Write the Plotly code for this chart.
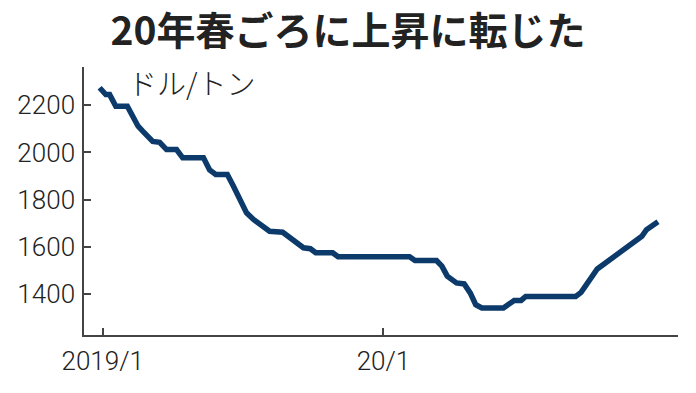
import plotly.graph_objects as go

dates = [
    "2018-12-28", "2019-01-05", "2019-01-10", "2019-01-18", "2019-02-02", "2019-02-07",
    "2019-02-16", "2019-02-22", "2019-03-07", "2019-03-16", "2019-03-25", "2019-04-07",
    "2019-04-15", "2019-05-12", "2019-05-20", "2019-05-28", "2019-06-12", "2019-06-20",
    "2019-07-07", "2019-07-16", "2019-08-06", "2019-08-23", "2019-09-01", "2019-09-19",
    "2019-09-28", "2019-10-05", "2019-10-27", "2019-11-03", "2020-02-04", "2020-02-11",
    "2020-03-10", "2020-03-17", "2020-03-24", "2020-04-05", "2020-04-15", "2020-04-23",
    "2020-04-30", "2020-05-08", "2020-06-05", "2020-06-19", "2020-06-28", "2020-07-04",
    "2020-09-07", "2020-09-14", "2020-10-05", "2020-10-31", "2020-11-26", "2020-12-02",
    "2020-12-08", "2020-12-23",
]
prices = [
    2274, 2245, 2245, 2196, 2196, 2168,
    2111, 2090, 2047, 2043, 2012, 2012,
    1977, 1977, 1926, 1907, 1907, 1857,
    1744, 1716, 1666, 1662, 1638, 1596,
    1592, 1575, 1575, 1558, 1558, 1542,
    1542, 1518, 1476, 1447, 1443, 1404,
    1355, 1341, 1341, 1373, 1373, 1390,
    1390, 1407, 1506, 1567, 1626, 1645,
    1673, 1706,
]

x_tickvals = ["2019-01-01", "2020-01-01"]
x_ticktext = ["2019/1", "20/1"]
y_tickvals = [1400, 1600, 1800, 2000, 2200]
y_ticktext = ["1400", "1600", "1800", "2000", "2200"]

title_text = "20年春ごろに上昇に転じた"
unit_text = "ドル/トン"

tick_font = dict(family="Roboto, sans-serif", size=26, color="#222222", weight=300)

fig = go.Figure()
fig.add_trace(go.Scatter(
    x=dates, y=prices, mode="lines",
    line=dict(color="#0c3a6b", width=5.5),
    hoverinfo="skip", showlegend=False,
))

fig.update_layout(
    width=696, height=393,
    margin=dict(l=84, r=18, t=67, b=58, autoexpand=False),
    paper_bgcolor="white", plot_bgcolor="white",
    title=dict(
        text=title_text, x=0.5, xref="container", xanchor="center",
        y=1 - 31 / 393, yref="container", yanchor="middle",
        font=dict(family="Noto Sans CJK JP", size=39, color="#222222", weight="bold"),
    ),
    xaxis=dict(
        type="date", range=["2018-12-07 16:00", "2021-01-18"],
        tickvals=x_tickvals, ticktext=x_ticktext,
        ticks="inside", ticklen=7, tickwidth=1.5, tickcolor="#444444",
        showline=True, linecolor="#444444", linewidth=1.5,
        showgrid=False, zeroline=False, tickfont=tick_font,
        ticklabelstandoff=2, automargin=False,
    ),
    yaxis=dict(
        range=[1226.5, 2362],
        tickvals=y_tickvals, ticktext=y_ticktext,
        ticks="inside", ticklen=7, tickwidth=1.5, tickcolor="#444444",
        showline=True, linecolor="#444444", linewidth=1.5,
        showgrid=False, zeroline=False, tickfont=tick_font,
        ticklabelstandoff=2, automargin=False,
    ),
    annotations=[dict(
        text=unit_text, xref="paper", yref="paper",
        x=(126 - 84) / (678 - 84), y=(335 - 82) / 268,
        xanchor="left", yanchor="middle", showarrow=False,
        font=dict(family="Noto Sans CJK JP", size=29, color="#222222", weight=300),
    )],
)

fig.write_html("out.html")
